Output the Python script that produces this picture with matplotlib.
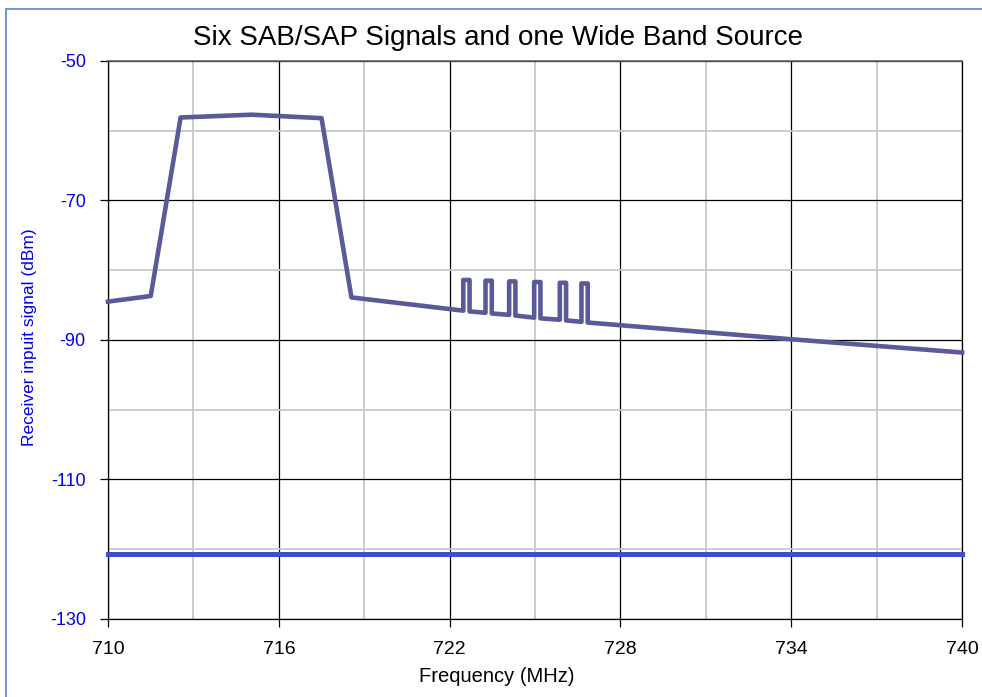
import matplotlib
matplotlib.use('Agg')
import matplotlib.pyplot as plt
from matplotlib.patches import Rectangle
from matplotlib.ticker import FixedLocator

plt.rcParams['font.family'] = ['Liberation Sans', 'DejaVu Sans']
plt.rcParams['axes.unicode_minus'] = False

# wide band source with six SAB/SAP carriers on top
freq = [710, 711.5, 712.55, 715.05, 717.5, 718.55,
        722.48, 722.48, 722.70, 722.70,
        723.26, 723.26, 723.48, 723.48,
        724.09, 724.09, 724.31, 724.31,
        724.97, 724.97, 725.19, 725.19,
        725.87, 725.87, 726.09, 726.09,
        726.63, 726.63, 726.85, 726.85,
        734, 740]
level = [-84.5, -83.7, -58.1, -57.7, -58.2, -83.9,
         -85.8, -81.4, -81.4, -85.9,
         -86.1, -81.5, -81.5, -86.2,
         -86.4, -81.6, -81.6, -86.5,
         -86.8, -81.7, -81.7, -86.9,
         -87.1, -81.8, -81.8, -87.2,
         -87.4, -81.9, -81.9, -87.5,
         -89.9, -91.8]

# receiver threshold line
thr_freq = [710, 740]
thr_level = [-120.7, -120.7]

xticks = [710, 716, 722, 728, 734, 740]
xminor = [713, 719, 725, 731, 737]
yticks = [-50, -70, -90, -110, -130]
yminor = [-60, -80, -100, -120]

fig = plt.figure(figsize=(9.82, 6.97), dpi=100)
ax = fig.add_axes([0.11, 0.112, 0.8697, 0.8005])

ax.plot(freq, level, color='#5a5a9a', lw=3.3, solid_joinstyle='round',
        solid_capstyle='projecting', zorder=4, clip_on=False)
ax.plot(thr_freq, thr_level, color='#3f4fcc', lw=3.6,
        solid_capstyle='projecting', zorder=4, clip_on=False)

ax.set_xlim(710, 740)
ax.set_ylim(-130, -50)
ax.set_xticks(xticks)
ax.set_yticks(yticks)
ax.xaxis.set_minor_locator(FixedLocator(xminor))
ax.yaxis.set_minor_locator(FixedLocator(yminor))
ax.grid(which='minor', color='#c8c8c8', lw=1.3)
ax.grid(which='major', color='black', lw=0.9)
ax.set_axisbelow(True)
ax.tick_params(which='major', length=6, width=0.9, direction='out', labelsize=14, pad=10)
ax.tick_params(which='minor', length=0)
ax.tick_params(axis='y', labelcolor='#0000ee', labelsize=13)
for s in ['left', 'bottom', 'right']:
    ax.spines[s].set_color('black')
    ax.spines[s].set_linewidth(0.9)
ax.spines['top'].set_color('#606060')
ax.spines['top'].set_linewidth(1.2)

fig.text(497 / 982, 1 - 677 / 697, 'Frequency (MHz)', ha='center', va='center', fontsize=14.5)
fig.text(30 / 982, 1 - 337 / 697, 'Receiver inpuit signal (dBm)', ha='center', va='center',
         rotation=90, fontsize=12.5, color='#0000ee')
fig.text(498 / 982, 1 - 38 / 697, 'Six SAB/SAP Signals and one Wide Band Source',
         ha='center', va='center', fontsize=20)

fig.patches.append(Rectangle((6 / 982, -0.1), 1.1, 1.1 - 8.5 / 697,
                             transform=fig.transFigure, fill=False,
                             edgecolor='#6a9ad0', lw=1.4))

fig.savefig('out.png', dpi=100)
